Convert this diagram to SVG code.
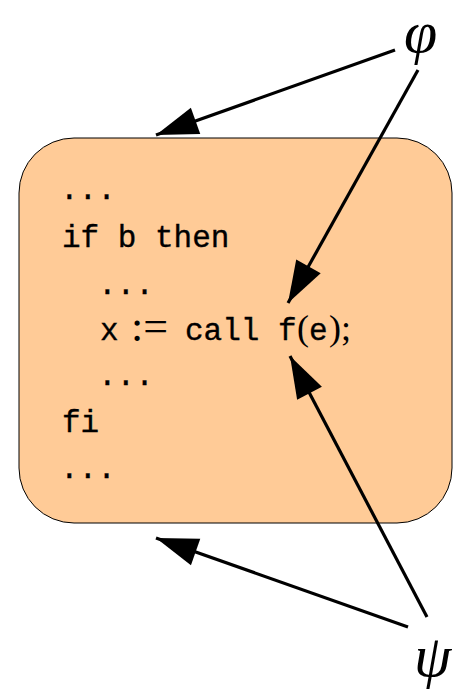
<svg xmlns="http://www.w3.org/2000/svg" width="461" height="696" viewBox="0 0 461 696">
<style>
.tt{font-family:"Liberation Mono","DejaVu Sans Mono",monospace;font-size:31px;fill:#000;stroke:#000;stroke-width:0.35}
.rm{font-family:"Liberation Serif","DejaVu Serif",serif;font-size:36px;fill:#000}
.greek{font-family:"Liberation Serif","DejaVu Serif",serif;font-style:italic;font-size:60px;fill:#000}
.conn{stroke:#000;stroke-width:3.2;fill:none;marker-end:url(#ah)}
</style>
<defs>
<marker id="ah" markerUnits="userSpaceOnUse" markerWidth="44" markerHeight="32" viewBox="0 -16 42 32" refX="42" refY="0" orient="auto">
<path d="M0,-14 L42,0 L0,14 Z" fill="#000"/>
</marker>
</defs>
<g id="box">
<rect x="19" y="138" width="433" height="385" rx="55" ry="55" fill="#FFCB97" stroke="#000" stroke-width="1"/>
<text class="tt" x="60" y="199">...</text>
<text class="tt" x="62" y="247">if b then</text>
<text class="tt" x="98" y="294">...</text>
<text class="tt" x="100" y="340">x</text>
<text class="rm" x="131" y="341" style="font-size:44px">:=</text>
<text class="tt" x="185" y="340">call f</text>
<text class="rm" x="297" y="340">(</text>
<text class="tt" x="309" y="340">e</text>
<text class="rm" x="329" y="340">);</text>
<text class="tt" x="98" y="385">...</text>
<text class="tt" x="62" y="432">fi</text>
<text class="tt" x="60" y="478">...</text>
</g>
<g id="phi"><text class="greek" x="404" y="52">φ</text></g>
<g id="psi"><text class="greek" x="414" y="676">ψ</text></g>
<g id="connectors">
<line class="conn" x1="395" y1="50" x2="156" y2="135"/>
<line class="conn" x1="418" y1="70" x2="288" y2="303"/>
<line class="conn" x1="427" y1="617" x2="290" y2="356"/>
<line class="conn" x1="408" y1="627" x2="156" y2="538"/>
</g>
</svg>
